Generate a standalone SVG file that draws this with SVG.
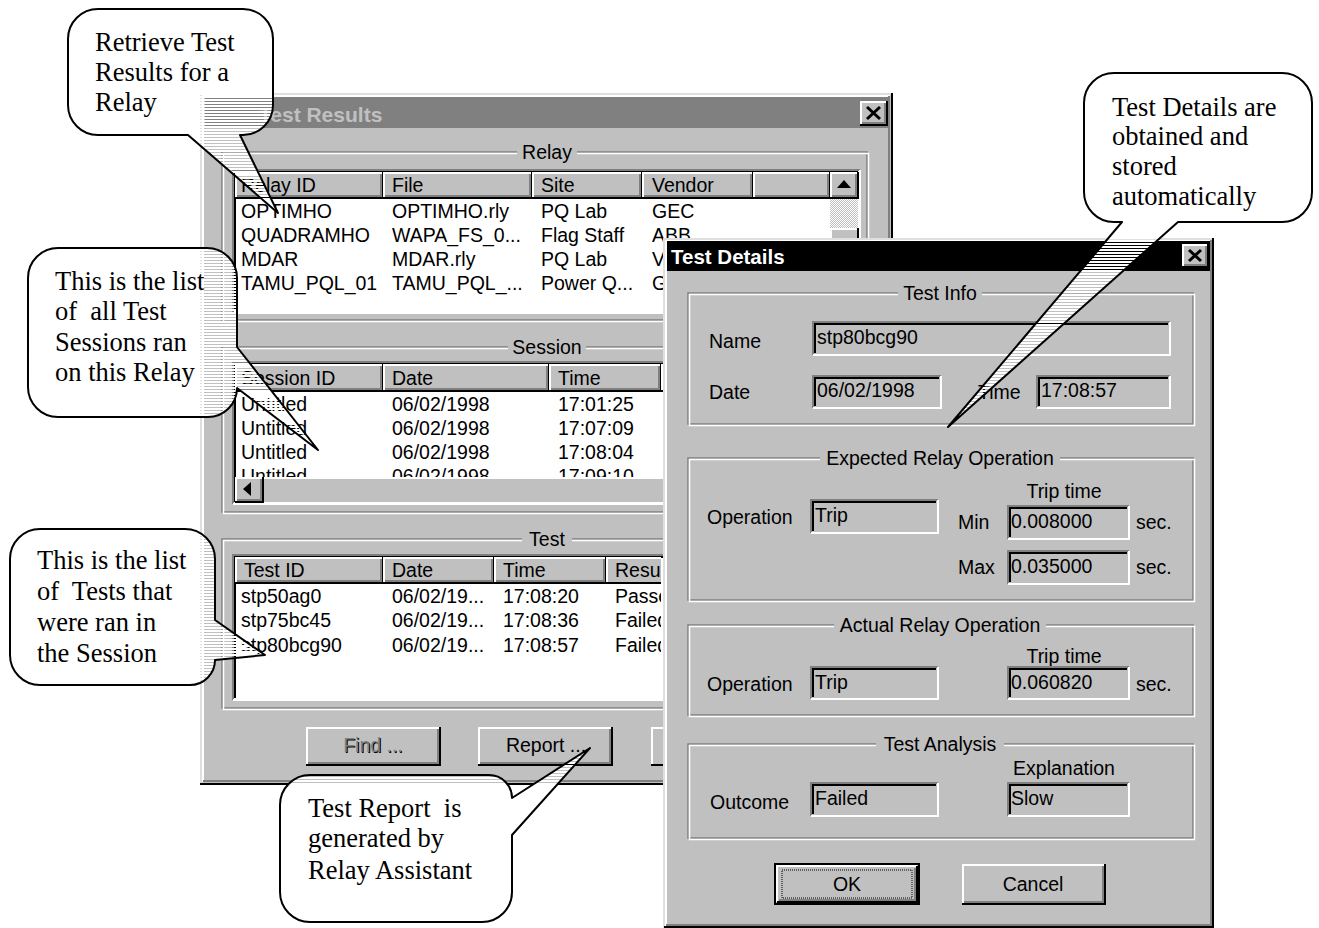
<svg xmlns="http://www.w3.org/2000/svg" width="1319" height="928" viewBox="0 0 1319 928">
<defs>
<style>
.ui{font-family:"Liberation Sans",Arial,sans-serif;font-size:19.5px;fill:#000}
.ttl{font-family:"Liberation Sans",Arial,sans-serif;font-weight:bold;font-size:21px}
.co{font-family:"Liberation Serif","Times New Roman",serif;font-size:26.5px;fill:#000;white-space:pre}
.mid{text-anchor:middle}
.face{fill:#c0c0c0}
.hl{fill:none;stroke:#fff;stroke-width:2}
.sh{fill:none;stroke:#808080;stroke-width:2}
.dk{fill:none;stroke:#000;stroke-width:2}
.lt{fill:none;stroke:#dfdfdf;stroke-width:2}
.e1{fill:none;stroke:#808080;stroke-width:1.5}
.e2{fill:none;stroke:#fff;stroke-width:1.5}
.bubble{fill:url(#hatch);stroke:#000;stroke-width:2;stroke-linejoin:round}
.xic{fill:none;stroke:#000;stroke-width:3}
.dis{fill:#808080}
</style>
<pattern id="hatch" patternUnits="userSpaceOnUse" width="10" height="3"><rect width="10" height="2" fill="#fff"/></pattern>
<pattern id="stip" patternUnits="userSpaceOnUse" width="2" height="2"><rect width="2" height="2" fill="#c0c0c0"/><rect width="1" height="1" fill="#fff"/><rect x="1" y="1" width="1" height="1" fill="#fff"/></pattern>
<clipPath id="sessClip"><rect x="235" y="391" width="623" height="86"/></clipPath>
<clipPath id="testClip"><rect x="233" y="555" width="428" height="145"/></clipPath>
</defs>
<rect width="1319" height="928" fill="#fff"/>

<g id="main-window">
<rect class="face" x="200" y="93" width="693" height="692"/>
<path class="lt" d="M201,784 V94 H892"/>
<path class="hl" d="M203,782 V96 H890"/>
<path class="dk" d="M200,784 H892 V93"/>
<path class="sh" d="M203,781 H889 V96"/>
<rect x="205" y="97" width="683" height="31" fill="#808080"/>
<text class="ttl" x="259" y="122" fill="#c0c0c0">Test Results</text>
<rect class="face" x="860" y="101" width="27" height="24"/>
<path class="hl" d="M861,124 V102 H886"/><path class="dk" d="M860,125 H887 V101"/><path class="sh" d="M862,123 H885 V103"/>
<path class="xic" d="M867,107 L880,119 M880,107 L867,119"/>

<!-- Relay group -->
<rect class="e1" x="222" y="152" width="645" height="168"/>
<rect class="e2" x="223.5" y="153.5" width="645" height="168"/>
<rect class="face" x="517" y="143" width="60" height="18"/>
<text class="ui mid" x="547" y="159" fill="#222">Relay</text>
<rect x="233" y="170" width="627" height="143" fill="#fff"/>
<path class="sh" d="M233,313 V170 H860"/><path class="dk" d="M235,311 V172 H858"/><path class="hl" d="M233,313 H860 V170"/>
<g id="relay-header">
<rect class="face" x="235" y="172" width="148" height="26"/><path class="hl" d="M236,197 V173 H382"/><path class="dk" d="M235,198 H383 V172"/><path class="sh" d="M237,196 H381 V174"/>
<rect class="face" x="383" y="172" width="149" height="26"/><path class="hl" d="M384,197 V173 H531"/><path class="dk" d="M383,198 H532 V172"/><path class="sh" d="M385,196 H530 V174"/>
<rect class="face" x="532" y="172" width="110" height="26"/><path class="hl" d="M533,197 V173 H641"/><path class="dk" d="M532,198 H642 V172"/><path class="sh" d="M534,196 H640 V174"/>
<rect class="face" x="642" y="172" width="111" height="26"/><path class="hl" d="M643,197 V173 H752"/><path class="dk" d="M642,198 H753 V172"/><path class="sh" d="M644,196 H751 V174"/>
<rect class="face" x="753" y="172" width="77" height="26"/><path class="hl" d="M754,197 V173 H829"/><path class="dk" d="M753,198 H830 V172"/><path class="sh" d="M755,196 H828 V174"/>
<text class="ui" x="241" y="192">Relay ID</text>
<text class="ui" x="392" y="192">File</text>
<text class="ui" x="541" y="192">Site</text>
<text class="ui" x="652" y="192">Vendor</text>
</g>
<rect x="830" y="198" width="28" height="113" fill="url(#stip)"/>
<rect class="face" x="830" y="172" width="28" height="26"/><path class="hl" d="M831,197 V173 H857"/><path class="dk" d="M830,198 H858 V172"/><path class="sh" d="M832,196 H856 V174"/>
<polygon points="844,180 837,188 851,188" fill="#000"/>
<rect class="face" x="830" y="228" width="28" height="40"/><path class="hl" d="M831,267 V229 H857"/><path class="dk" d="M830,268 H858 V228"/>
<g class="ui">
<text x="241" y="218">OPTIMHO</text><text x="392" y="218">OPTIMHO.rly</text><text x="541" y="218">PQ Lab</text><text x="652" y="218">GEC</text>
<text x="241" y="242">QUADRAMHO</text><text x="392" y="242">WAPA_FS_0...</text><text x="541" y="242">Flag Staff</text><text x="652" y="242">ABB</text>
<text x="241" y="266">MDAR</text><text x="392" y="266">MDAR.rly</text><text x="541" y="266">PQ Lab</text><text x="652" y="266">V</text>
<text x="241" y="290">TAMU_PQL_01</text><text x="392" y="290">TAMU_PQL_...</text><text x="541" y="290">Power Q...</text><text x="652" y="290">G</text>
</g>

<!-- Session group -->
<rect class="e1" x="222" y="347" width="645" height="165"/>
<rect class="e2" x="223.5" y="348.5" width="645" height="165"/>
<rect class="face" x="508" y="338" width="78" height="18"/>
<text class="ui mid" x="547" y="354" fill="#222">Session</text>
<rect x="233" y="362" width="627" height="142" fill="#fff"/>
<path class="sh" d="M233,504 V362 H860"/><path class="dk" d="M235,502 V364 H858"/><path class="hl" d="M233,504 H860 V362"/>
<rect class="face" x="235" y="364" width="148" height="27"/><path class="hl" d="M236,390 V365 H382"/><path class="dk" d="M235,391 H383 V364"/><path class="sh" d="M237,389 H381 V366"/>
<rect class="face" x="383" y="364" width="166" height="27"/><path class="hl" d="M384,390 V365 H548"/><path class="dk" d="M383,391 H549 V364"/><path class="sh" d="M385,389 H547 V366"/>
<rect class="face" x="549" y="364" width="112" height="27"/><path class="hl" d="M550,390 V365 H660"/><path class="dk" d="M549,391 H661 V364"/><path class="sh" d="M551,389 H659 V366"/>
<rect class="face" x="661" y="364" width="160" height="27"/><path class="hl" d="M662,390 V365 H820"/><path class="dk" d="M661,391 H821 V364"/>
<g class="ui">
<text x="241" y="385">Session ID</text><text x="392" y="385">Date</text><text x="558" y="385">Time</text>
</g>
<g class="ui" clip-path="url(#sessClip)">
<text x="241" y="411">Untitled</text><text x="392" y="411">06/02/1998</text><text x="558" y="411">17:01:25</text>
<text x="241" y="435">Untitled</text><text x="392" y="435">06/02/1998</text><text x="558" y="435">17:07:09</text>
<text x="241" y="459">Untitled</text><text x="392" y="459">06/02/1998</text><text x="558" y="459">17:08:04</text>
<text x="241" y="483">Untitled</text><text x="392" y="483">06/02/1998</text><text x="558" y="483">17:09:10</text>
</g>
<rect class="face" x="235" y="477" width="623" height="25"/>
<path class="hl" d="M263,478 H857"/>
<rect class="face" x="235" y="477" width="28" height="25"/><path class="hl" d="M236,501 V478 H262"/><path class="dk" d="M235,502 H263 V477"/><path class="sh" d="M237,500 H261 V479"/>
<polygon points="243,489 251,482 251,496" fill="#000"/>

<!-- Test group -->
<rect class="e1" x="222" y="539" width="645" height="169"/>
<rect class="e2" x="223.5" y="540.5" width="645" height="169"/>
<rect class="face" x="522" y="530" width="50" height="18"/>
<text class="ui mid" x="547" y="546" fill="#222">Test</text>
<rect x="233" y="555" width="627" height="145" fill="#fff"/>
<path class="sh" d="M233,700 V555 H860"/><path class="dk" d="M235,698 V557 H858"/><path class="hl" d="M233,700 H860 V555"/>
<g clip-path="url(#testClip)">
<rect class="face" x="235" y="557" width="148" height="26"/><path class="hl" d="M236,582 V558 H382"/><path class="dk" d="M235,583 H383 V557"/><path class="sh" d="M237,581 H381 V559"/>
<rect class="face" x="383" y="557" width="111" height="26"/><path class="hl" d="M384,582 V558 H493"/><path class="dk" d="M383,583 H494 V557"/><path class="sh" d="M385,581 H492 V559"/>
<rect class="face" x="494" y="557" width="112" height="26"/><path class="hl" d="M495,582 V558 H605"/><path class="dk" d="M494,583 H606 V557"/><path class="sh" d="M496,581 H604 V559"/>
<rect class="face" x="606" y="557" width="160" height="26"/><path class="hl" d="M607,582 V558 H765"/><path class="dk" d="M606,583 H766 V557"/>
<g class="ui">
<text x="244" y="577">Test ID</text><text x="392" y="577">Date</text><text x="503" y="577">Time</text><text x="615" y="577">Result</text>
<text x="241" y="603">stp50ag0</text><text x="392" y="603">06/02/19...</text><text x="503" y="603">17:08:20</text><text x="615" y="603">Passed</text>
<text x="241" y="627">stp75bc45</text><text x="392" y="627">06/02/19...</text><text x="503" y="627">17:08:36</text><text x="615" y="627">Failed</text>
<text x="241" y="652">stp80bcg90</text><text x="392" y="652">06/02/19...</text><text x="503" y="652">17:08:57</text><text x="615" y="652">Failed</text>
</g>
</g>

<!-- Buttons -->
<rect class="face" x="306" y="727" width="134" height="38"/><path class="hl" d="M307,764 V728 H439"/><path class="dk" d="M306,765 H440 V727"/><path class="sh" d="M308,763 H438 V729"/>
<text class="ui mid" x="374" y="753" fill="#fff">Find ...</text>
<text class="ui mid dis" x="373" y="752">Find ...</text>
<rect class="face" x="478" y="727" width="134" height="38"/><path class="hl" d="M479,764 V728 H611"/><path class="dk" d="M478,765 H612 V727"/><path class="sh" d="M480,763 H610 V729"/>
<text class="ui mid" x="546" y="752">Report ...</text>
<rect class="face" x="651" y="727" width="134" height="38"/><path class="hl" d="M652,764 V728 H784"/><path class="dk" d="M651,765 H785 V727"/>
</g>

<g id="test-details">
<rect class="face" x="663" y="238" width="551" height="692"/>
<path class="lt" d="M664,928 V239 H1213"/>
<path class="hl" d="M666,926 V241 H1211"/>
<path class="dk" d="M664,927 H1213 V238"/>
<path class="sh" d="M666,925 H1211 V240"/>
<rect x="667" y="241" width="543" height="30" fill="#000"/>
<text class="ttl" x="671" y="264" fill="#fff" style="font-size:20.5px">Test Details</text>
<rect class="face" x="1182" y="244" width="26" height="23"/>
<path class="hl" d="M1183,266 V245 H1207"/><path class="dk" d="M1182,267 H1208 V244"/><path class="sh" d="M1184,265 H1206 V246"/>
<path class="xic" d="M1189,250 L1201,261 M1201,250 L1189,261"/>

<!-- Test Info -->
<rect class="e1" x="688" y="293" width="505" height="131"/>
<rect class="e2" x="689.5" y="294.5" width="505" height="131"/>
<rect class="face" x="898" y="284" width="84" height="18"/>
<text class="ui mid" x="940" y="300" fill="#222">Test Info</text>
<text class="ui" x="709" y="348">Name</text>
<rect class="face" x="813" y="322" width="357" height="33"/><path class="sh" d="M813,355 V322 H1170"/><path class="dk" d="M815,353 V324 H1168"/><path class="hl" d="M813,355 H1170 V322"/>
<text class="ui" x="817" y="344">stp80bcg90</text>
<text class="ui" x="709" y="399">Date</text>
<rect class="face" x="813" y="376" width="128" height="32"/><path class="sh" d="M813,408 V376 H941"/><path class="dk" d="M815,406 V378 H939"/><path class="hl" d="M813,408 H941 V376"/>
<text class="ui" x="817" y="397">06/02/1998</text>
<text class="ui" x="978" y="399">Time</text>
<rect class="face" x="1037" y="376" width="133" height="32"/><path class="sh" d="M1037,408 V376 H1170"/><path class="dk" d="M1039,406 V378 H1168"/><path class="hl" d="M1037,408 H1170 V376"/>
<text class="ui" x="1041" y="397">17:08:57</text>

<!-- Expected -->
<rect class="e1" x="688" y="458" width="505" height="142"/>
<rect class="e2" x="689.5" y="459.5" width="505" height="142"/>
<rect class="face" x="820" y="449" width="240" height="18"/>
<text class="ui mid" x="940" y="465" fill="#222">Expected Relay Operation</text>
<text class="ui mid" x="1064" y="498">Trip time</text>
<text class="ui" x="707" y="524">Operation</text>
<rect class="face" x="811" y="500" width="127" height="33"/><path class="sh" d="M811,533 V500 H938"/><path class="dk" d="M813,531 V502 H936"/><path class="hl" d="M811,533 H938 V500"/>
<text class="ui" x="815" y="522">Trip</text>
<text class="ui" x="958" y="529">Min</text>
<rect class="face" x="1008" y="506" width="121" height="33"/><path class="sh" d="M1008,539 V506 H1129"/><path class="dk" d="M1010,537 V508 H1127"/><path class="hl" d="M1008,539 H1129 V506"/>
<text class="ui" x="1011" y="528">0.008000</text>
<text class="ui" x="1136" y="529">sec.</text>
<text class="ui" x="958" y="574">Max</text>
<rect class="face" x="1008" y="551" width="121" height="33"/><path class="sh" d="M1008,584 V551 H1129"/><path class="dk" d="M1010,582 V553 H1127"/><path class="hl" d="M1008,584 H1129 V551"/>
<text class="ui" x="1011" y="573">0.035000</text>
<text class="ui" x="1136" y="574">sec.</text>

<!-- Actual -->
<rect class="e1" x="688" y="625" width="505" height="90"/>
<rect class="e2" x="689.5" y="626.5" width="505" height="90"/>
<rect class="face" x="834" y="616" width="212" height="18"/>
<text class="ui mid" x="940" y="632" fill="#222">Actual Relay Operation</text>
<text class="ui mid" x="1064" y="663">Trip time</text>
<text class="ui" x="707" y="691">Operation</text>
<rect class="face" x="811" y="667" width="127" height="32"/><path class="sh" d="M811,699 V667 H938"/><path class="dk" d="M813,697 V669 H936"/><path class="hl" d="M811,699 H938 V667"/>
<text class="ui" x="815" y="689">Trip</text>
<rect class="face" x="1008" y="667" width="121" height="32"/><path class="sh" d="M1008,699 V667 H1129"/><path class="dk" d="M1010,697 V669 H1127"/><path class="hl" d="M1008,699 H1129 V667"/>
<text class="ui" x="1011" y="689">0.060820</text>
<text class="ui" x="1136" y="691">sec.</text>

<!-- Analysis -->
<rect class="e1" x="688" y="744" width="505" height="94"/>
<rect class="e2" x="689.5" y="745.5" width="505" height="94"/>
<rect class="face" x="876" y="735" width="128" height="18"/>
<text class="ui mid" x="940" y="751" fill="#222">Test Analysis</text>
<text class="ui mid" x="1064" y="775">Explanation</text>
<text class="ui" x="710" y="809">Outcome</text>
<rect class="face" x="811" y="783" width="127" height="33"/><path class="sh" d="M811,816 V783 H938"/><path class="dk" d="M813,814 V785 H936"/><path class="hl" d="M811,816 H938 V783"/>
<text class="ui" x="815" y="805">Failed</text>
<rect class="face" x="1008" y="783" width="121" height="33"/><path class="sh" d="M1008,816 V783 H1129"/><path class="dk" d="M1010,814 V785 H1127"/><path class="hl" d="M1008,816 H1129 V783"/>
<text class="ui" x="1011" y="805">Slow</text>

<!-- OK / Cancel -->
<rect class="face" x="775" y="864" width="144" height="40" stroke="#000" stroke-width="2"/>
<path class="hl" d="M777,902 V866 H917"/><path class="dk" d="M777,902 H917 V866"/><path class="sh" d="M779,900 H915 V868"/>
<rect x="782" y="870" width="130" height="28" fill="none" stroke="#000" stroke-width="1" stroke-dasharray="1 1"/>
<text class="ui mid" x="847" y="891">OK</text>
<rect class="face" x="962" y="864" width="143" height="40"/><path class="hl" d="M963,903 V865 H1104"/><path class="dk" d="M962,904 H1105 V864"/><path class="sh" d="M964,902 H1103 V866"/>
<text class="ui mid" x="1033" y="891">Cancel</text>
</g>

<g id="callouts">
<g id="callout-retrieve">
<path class="bubble" d="M98,9 H243 A30,30 0 0 1 273,39 V105 A30,30 0 0 1 243,135 H240 L278,213 L188,135 H98 A30,30 0 0 1 68,105 V39 A30,30 0 0 1 98,9 Z"/>
<text class="co" x="95" y="51">Retrieve Test</text>
<text class="co" x="95" y="81">Results for a</text>
<text class="co" x="95" y="111">Relay</text>
</g>
<g id="callout-sessions">
<path class="bubble" d="M58,248 H207 A30,30 0 0 1 237,278 V347 L318,450 L237,388 A29,29 0 0 1 208,417 H58 A30,30 0 0 1 28,387 V278 A30,30 0 0 1 58,248 Z"/>
<text class="co" x="55" y="290">This is the list</text>
<text class="co" x="55" y="320" xml:space="preserve">of  all Test</text>
<text class="co" x="55" y="351">Sessions ran</text>
<text class="co" x="55" y="381">on this Relay</text>
</g>
<g id="callout-tests">
<path class="bubble" d="M40,529 H185 A30,30 0 0 1 215,559 V620 L265,655 L215,660 A25,25 0 0 1 190,685 H40 A30,30 0 0 1 10,655 V559 A30,30 0 0 1 40,529 Z"/>
<text class="co" x="37" y="569">This is the list</text>
<text class="co" x="37" y="600" xml:space="preserve">of  Tests that</text>
<text class="co" x="37" y="631">were ran in</text>
<text class="co" x="37" y="662">the Session</text>
</g>
<g id="callout-report">
<path class="bubble" d="M310,775 H489 A23,23 0 0 1 512,798 L590,748 L512,835 V892 A30,30 0 0 1 482,922 H310 A30,30 0 0 1 280,892 V805 A30,30 0 0 1 310,775 Z"/>
<text class="co" x="308" y="817" xml:space="preserve">Test Report  is</text>
<text class="co" x="308" y="847">generated by</text>
<text class="co" x="308" y="879">Relay Assistant</text>
</g>
<g id="callout-details">
<path class="bubble" d="M1114,73 H1282 A30,30 0 0 1 1312,103 V192 A30,30 0 0 1 1282,222 H1178 L948,427 L1122,222 H1114 A30,30 0 0 1 1084,192 V103 A30,30 0 0 1 1114,73 Z"/>
<text class="co" x="1112" y="116">Test Details are</text>
<text class="co" x="1112" y="145">obtained and</text>
<text class="co" x="1112" y="175">stored</text>
<text class="co" x="1112" y="205">automatically</text>
</g>
</g>
</svg>
